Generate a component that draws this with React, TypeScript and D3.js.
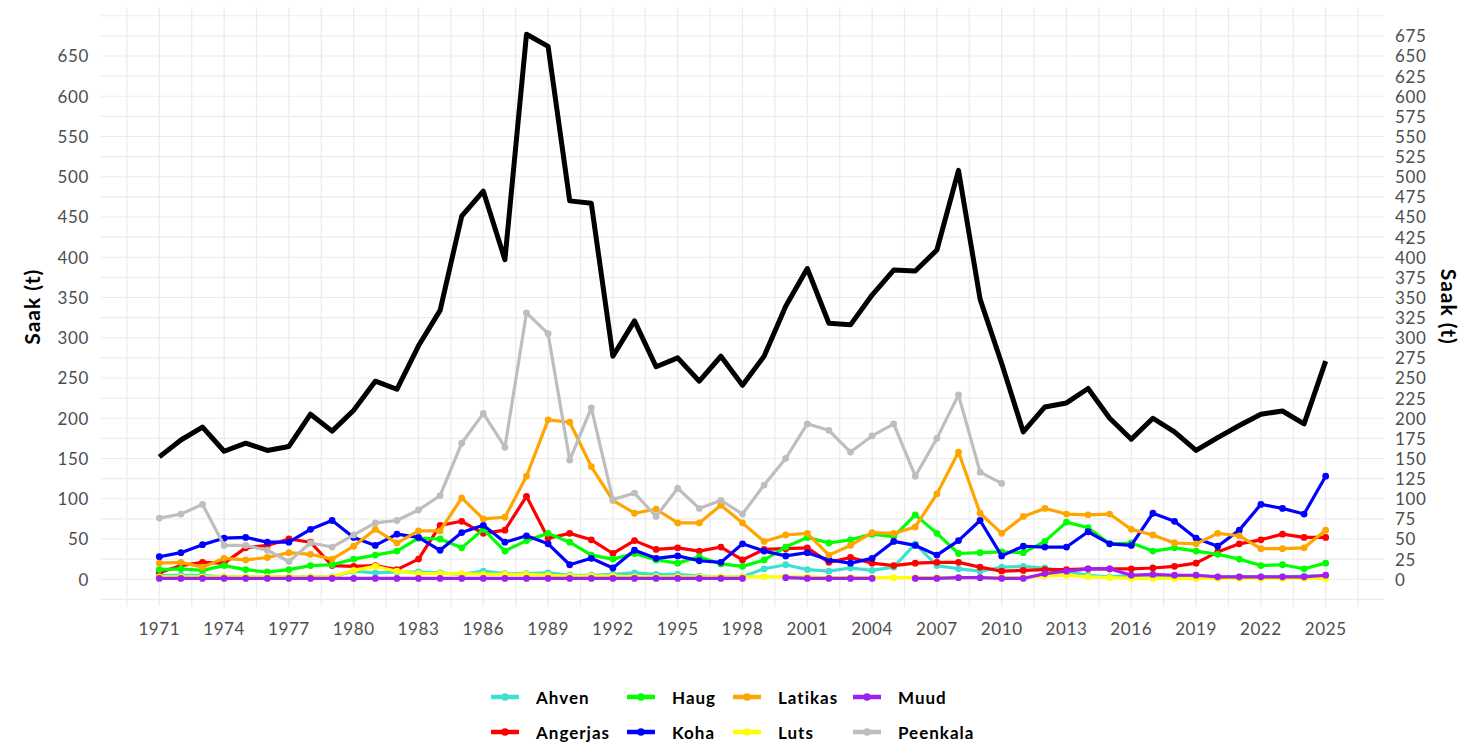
import React from "react";
import * as d3 from "d3";

const years: number[] = d3.range(1971, 2026);

const ahven: (number | null)[] = [5,5,5,3,3,3,3,3,3,10,8,9,9,8,6,10,7,7,8,5,5,6,8,6,6,4,3,3,13,18,12,10,14,11,15,44,17,13,10,15,16,14,10,5,3,5,4,4,4,3,3,3,3,4,4];
const angerjas: (number | null)[] = [8,17,21,20,39,42,50,46,17,16,17,12,25,67,72,57,61,103,51,57,49,32,48,37,39,35,40,24,37,38,39,21,27,20,17,20,21,21,15,10,11,12,12,13,13,13,14,16,20,34,44,49,56,52,52];
const haug: (number | null)[] = [12,13,11,17,12,9,12,17,18,25,30,35,51,50,39,62,35,48,57,46,30,25,32,24,20,28,19,16,24,40,52,45,49,56,53,80,57,32,33,34,33,47,71,64,44,45,35,39,35,31,25,17,18,13,20];
const koha: (number | null)[] = [28,33,43,51,52,46,46,62,73,52,42,56,52,36,58,67,46,54,44,18,26,14,36,26,29,23,21,44,35,29,33,24,20,26,47,42,30,48,73,29,41,40,40,59,44,42,82,72,51,41,61,93,88,81,128];
const latikas: (number | null)[] = [20,21,15,26,24,27,33,31,25,41,62,45,60,60,101,75,77,128,198,195,140,98,82,87,70,70,92,70,47,55,57,30,42,58,57,65,106,158,82,57,78,88,81,80,81,62,55,45,44,57,54,38,38,39,61];
const luts: (number | null)[] = [3,3,3,3,3,3,3,3,3,11,16,10,7,7,7,6,6,6,5,4,4,4,3,3,3,3,3,3,3,3,3,2,2,2,2,2,2,2,2,2,2,4,5,3,2,1,1,1,1,1,1,1,1,1,1];
const muud: (number | null)[] = [1,1,1,1,1,1,1,1,1,1,1,1,1,1,1,1,1,1,1,1,1,1,1,1,1,1,1,1,null,2,1,1,1,1,null,1,1,2,2,1,1,7,10,13,13,5,6,5,5,3,3,3,3,3,5];
const peenkala: (number | null)[] = [76,81,93,42,42,36,22,45,40,55,70,73,86,104,169,206,164,331,305,148,213,99,107,78,113,88,98,81,117,150,193,185,158,178,193,128,175,229,133,119,null,null,null,null,null,null,null,null,null,null,null,null,null,null,null];
const total: (number | null)[] = [152,173,189,159,169,160,165,205,184,210,246,236,290,334,451,482,397,677,662,470,467,277,321,264,275,246,277,241,277,339,386,318,316,353,384,383,409,508,348,268,183,214,219,237,200,174,200,183,160,176,191,205,209,193,271];

const seriesNames: string[] = ["Ahven","Angerjas","Haug","Koha","Latikas","Luts","Muud","Peenkala"];
const seriesColors: string[] = ["#40E0D0","#FF0000","#00FF00","#0000FF","#FFA500","#FFFF00","#A020F0","#BEBEBE"];
const seriesValues = [ahven, angerjas, haug, koha, latikas, luts, muud, peenkala];

const xTicks: number[] = d3.range(1971, 2026, 3);
const leftTicks: number[] = d3.range(0, 651, 50);
const rightTicks: number[] = d3.range(0, 676, 25);

const W = 1462, H = 745;
const FONT = "Lato, 'Open Sans', sans-serif";

export default function App() {
  const left = 101, right = 1384, top = 7, bottom = 606.5;
  const x = d3.scaleLinear().domain([1971 - 2.7, 2025 + 2.7]).range([left, right]);
  const maxV = d3.max(total, (d) => d ?? 0) as number;
  const pad = maxV * 0.05;
  const y = d3.scaleLinear().domain([-pad, maxV + pad]).range([bottom, top]);

  const line = d3.line<[number, number | null]>()
    .defined((d) => d[1] !== null)
    .x((d) => x(d[0]))
    .y((d) => y(d[1] as number));

  const gridY = d3.range(-25, 701, 25);
  const gridX = d3.range(1969.5, 2027, 1.5);

  const legendCols = [490, 626, 732, 852];
  const legendRows = [697, 732];

  return (
    <svg width={W} height={H} style={{ position: "absolute", left: 0, top: 0, background: "#fff" }}>
      <rect x={0} y={0} width={W} height={H} fill="#fff" />
      {gridY.map((v) => (
        <line key={"gy" + v} x1={left} x2={right} y1={y(v)} y2={y(v)} stroke="#ebebeb" strokeWidth={1.2} />
      ))}
      {gridX.map((v) => (
        <line key={"gx" + v} x1={x(v)} x2={x(v)} y1={top} y2={bottom} stroke="#ebebeb" strokeWidth={1.2} />
      ))}
      {seriesValues.map((vals, i) => {
        const pts = years.map((yr, j) => [yr, vals[j]] as [number, number | null]);
        return (
          <g key={seriesNames[i]}>
            <path d={line(pts) || ""} fill="none" stroke={seriesColors[i]} strokeWidth={3.2} strokeLinejoin="round" />
            {pts.filter((p) => p[1] !== null).map((p) => (
              <circle key={p[0]} cx={x(p[0])} cy={y(p[1] as number)} r={3.4} fill={seriesColors[i]} />
            ))}
          </g>
        );
      })}
      <path
        d={line(years.map((yr, j) => [yr, total[j]] as [number, number | null])) || ""}
        fill="none" stroke="#000" strokeWidth={5} strokeLinejoin="round"
      />
      {xTicks.map((t) => (
        <text key={"xt" + t} x={x(t)} y={628} textAnchor="middle" dominantBaseline="central" fontFamily={FONT} fontSize={17} letterSpacing={0.6} fill="#4d4d4d">{t}</text>
      ))}
      {leftTicks.map((t) => (
        <text key={"lt" + t} x={89} y={y(t)} textAnchor="end" dominantBaseline="central" fontFamily={FONT} fontSize={17} letterSpacing={0.6} fill="#4d4d4d">{t}</text>
      ))}
      {rightTicks.map((t) => (
        <text key={"rt" + t} x={1395} y={y(t)} textAnchor="start" dominantBaseline="central" fontFamily={FONT} fontSize={17} letterSpacing={0.6} fill="#4d4d4d">{t}</text>
      ))}
      <text transform={`translate(31,${(top + bottom) / 2}) rotate(-90)`} textAnchor="middle" dominantBaseline="central" fontFamily={FONT} fontSize={21} letterSpacing={1} fontWeight="bold" fill="#000">Saak (t)</text>
      <text transform={`translate(1449,${(top + bottom) / 2}) rotate(90)`} textAnchor="middle" dominantBaseline="central" fontFamily={FONT} fontSize={21} letterSpacing={1} fontWeight="bold" fill="#000">Saak (t)</text>
      {seriesNames.map((name, i) => {
        const col = Math.floor(i / 2);
        const row = i % 2;
        const lx = legendCols[col];
        const ly = legendRows[row];
        return (
          <g key={"lg" + name}>
            <line x1={lx + 1} x2={lx + 29} y1={ly} y2={ly} stroke={seriesColors[i]} strokeWidth={4.5} />
            <circle cx={lx + 15} cy={ly} r={3.8} fill={seriesColors[i]} />
            <text x={lx + 46} y={ly} dominantBaseline="central" fontFamily={FONT} fontSize={17} letterSpacing={1} fontWeight="bold" fill="#000">{name}</text>
          </g>
        );
      })}
    </svg>
  );
}
